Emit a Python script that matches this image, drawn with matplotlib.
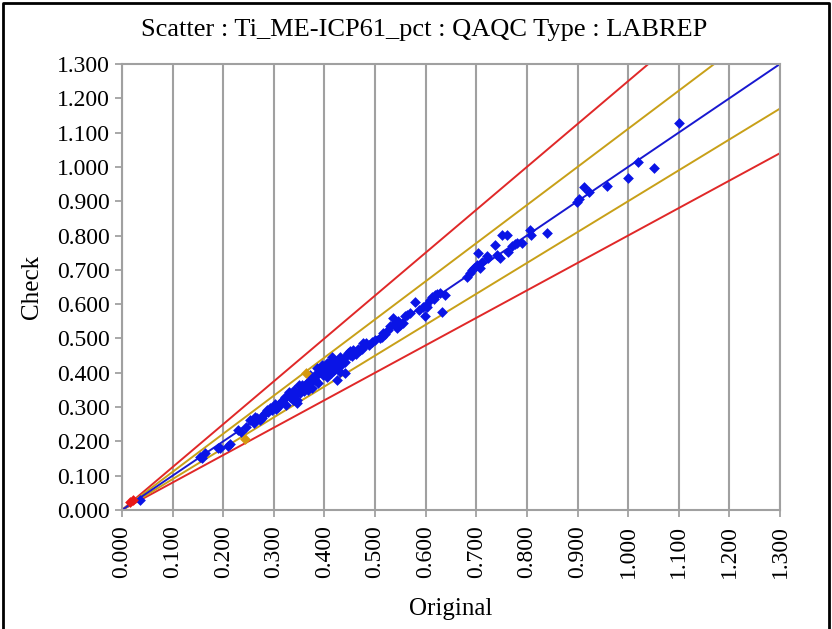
import matplotlib
matplotlib.use('Agg')
import matplotlib.pyplot as plt
import numpy as np

plt.rcParams['font.family'] = ['Liberation Serif', 'DejaVu Serif']

title = 'Scatter : Ti_ME-ICP61_pct : QAQC Type : LABREP'
x_label = 'Original'
y_label = 'Check'
ticks = [0.0, 0.1, 0.2, 0.3, 0.4, 0.5, 0.6, 0.7, 0.8, 0.9, 1.0, 1.1, 1.2, 1.3]

# blue points (within limits)
orig = [0.036, 0.154, 0.158, 0.164, 0.190, 0.194, 0.210, 0.213, 0.230, 0.236,
        0.246, 0.253, 0.260, 0.266, 0.272, 0.279, 0.283, 0.286, 0.292, 0.299,
        0.305, 0.312, 0.316, 0.319, 0.325, 0.329, 0.332, 0.339, 0.342, 0.345,
        0.345, 0.349, 0.352, 0.358, 0.362, 0.365, 0.368, 0.372, 0.375, 0.378,
        0.381, 0.385, 0.385, 0.388, 0.392, 0.395, 0.398, 0.402, 0.405, 0.405,
        0.408, 0.412, 0.414, 0.418, 0.421, 0.424, 0.427, 0.431, 0.431, 0.434,
        0.441, 0.441, 0.444, 0.447, 0.450, 0.451, 0.457, 0.460, 0.466, 0.470,
        0.477, 0.477, 0.483, 0.488, 0.493, 0.500, 0.510, 0.513, 0.516, 0.526,
        0.536, 0.540, 0.543, 0.550, 0.556, 0.559, 0.563, 0.579, 0.586, 0.595,
        0.599, 0.601, 0.602, 0.609, 0.613, 0.619, 0.628, 0.632, 0.638, 0.681,
        0.688, 0.691, 0.701, 0.703, 0.707, 0.721, 0.724, 0.737, 0.740, 0.747,
        0.750, 0.760, 0.763, 0.770, 0.777, 0.780, 0.790, 0.806, 0.809, 0.839,
        0.899, 0.902, 0.912, 0.922, 0.958, 0.999, 1.019, 1.051, 1.101,
        0.262, 0.276, 0.289, 0.296, 0.302, 0.309, 0.322, 0.335, 0.338, 0.355,
        0.360, 0.371, 0.383, 0.391, 0.400, 0.410, 0.416, 0.425, 0.437, 0.454,
        0.463, 0.474, 0.530, 0.546, 0.520, 0.570, 0.617, 0.623, 0.695, 0.712]
check = [0.029, 0.155, 0.151, 0.165, 0.180, 0.182, 0.187, 0.192, 0.233, 0.228,
         0.243, 0.262, 0.255, 0.267, 0.262, 0.277, 0.282, 0.292, 0.296, 0.301,
         0.295, 0.311, 0.318, 0.321, 0.305, 0.345, 0.330, 0.350, 0.335, 0.321,
         0.311, 0.364, 0.342, 0.355, 0.364, 0.369, 0.350, 0.394, 0.355, 0.379,
         0.379, 0.399, 0.413, 0.370, 0.405, 0.423, 0.392, 0.415, 0.389, 0.428,
         0.413, 0.400, 0.447, 0.423, 0.410, 0.379, 0.437, 0.403, 0.447, 0.425,
         0.432, 0.399, 0.452, 0.457, 0.451, 0.462, 0.466, 0.457, 0.470, 0.466,
         0.476, 0.486, 0.486, 0.480, 0.491, 0.495, 0.501, 0.505, 0.515, 0.525,
         0.559, 0.544, 0.530, 0.540, 0.544, 0.564, 0.568, 0.607, 0.583, 0.593,
         0.566, 0.597, 0.593, 0.612, 0.622, 0.627, 0.632, 0.576, 0.627, 0.680,
         0.690, 0.700, 0.714, 0.748, 0.705, 0.739, 0.734, 0.773, 0.743, 0.734,
         0.802, 0.802, 0.753, 0.768, 0.776, 0.778, 0.778, 0.816, 0.802, 0.807,
         0.899, 0.905, 0.941, 0.928, 0.945, 0.969, 1.015, 0.998, 1.127,
         0.270, 0.268, 0.285, 0.290, 0.308, 0.300, 0.330, 0.340, 0.322, 0.365,
         0.348, 0.380, 0.390, 0.415, 0.398, 0.430, 0.405, 0.415, 0.440, 0.448,
         0.455, 0.470, 0.535, 0.550, 0.512, 0.575, 0.615, 0.630, 0.705, 0.722]

# warning (gold) and failure (red) points
warn_orig = [0.243, 0.364]
warn_check = [0.206, 0.400]
fail_orig = [0.016, 0.022]
fail_check = [0.024, 0.029]

# limit line slopes
fail_hi, fail_lo = 1.25, 0.80
warn_hi, warn_lo = 1.111, 0.90
max_val = 1.3

fig = plt.figure(figsize=(8.32, 6.29), dpi=100)
ax = fig.add_axes([0.1466, 0.1892, 0.7909, 0.7091])

xs = np.array([0.0, max_val])
ax.plot(xs, xs * fail_hi, color='#e02828', lw=1.4, zorder=2)
ax.plot(xs, xs * fail_lo, color='#e02828', lw=1.4, zorder=2)
ax.plot(xs, xs * warn_hi, color='#c8a018', lw=1.4, zorder=2)
ax.plot(xs, xs * warn_lo, color='#c8a018', lw=1.4, zorder=2)
ax.plot(xs, xs, color='#1818d0', lw=1.4, zorder=2)

ax.scatter(orig, check, marker='D', s=30, color='#0a14e6', linewidths=0, zorder=3)
ax.scatter(warn_orig, warn_check, marker='D', s=30, color='#d49a10', linewidths=0, zorder=3)
ax.scatter(fail_orig, fail_check, marker='D', s=30, color='#e81818', linewidths=0, zorder=3)

ax.set_xlim(0, max_val)
ax.set_ylim(0, max_val)
ax.set_xticks(ticks)
ax.set_yticks(ticks)
ax.set_xticklabels(['%.3f' % t for t in ticks], rotation=90, fontsize=17)
ax.set_yticklabels(['%.3f' % t for t in ticks], fontsize=17)
ax.tick_params(axis='both', colors='#999999', length=5, width=1.2, labelcolor='black')
ax.tick_params(axis='x', pad=6)
ax.grid(axis='x', color='#a0a0a0', lw=1.5)
ax.set_axisbelow(True)
for s in ax.spines.values():
    s.set_color('#a0a0a0')
    s.set_linewidth(1.5)

# title is centred on the whole picture, not on the axes
fig.text(0.51, 0.952, title, fontsize=19, ha='center', va='center')
ax.set_xlabel(x_label, fontsize=18, labelpad=14)
ax.set_ylabel(y_label, fontsize=18, labelpad=10)

# outer frame
fig.add_artist(plt.Line2D([0.004, 0.004, 0.996, 0.996], [0.0, 0.996, 0.996, 0.0],
                          transform=fig.transFigure, color='black', lw=2))

fig.savefig('out.png', dpi=100)
